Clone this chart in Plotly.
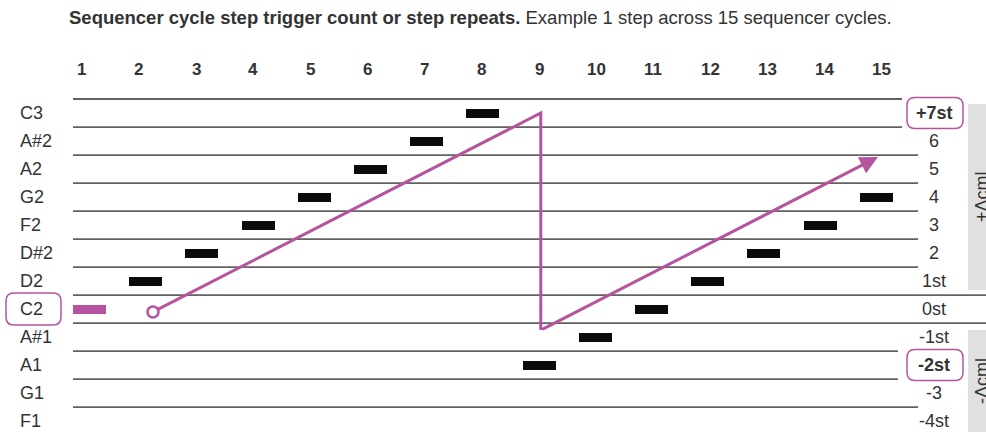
import plotly.graph_objects as go

# ---------------- data ----------------
steps = list(range(1, 16))
step_rows = [0, 1, 2, 3, 4, 5, 6, 7, -2, -1, 0, 1, 2, 3, 4]
col_labels = [str(s) for s in steps]
row_values = [7, 6, 5, 4, 3, 2, 1, 0, -1, -2, -3, -4]
note_labels = ["C3", "A#2", "A2", "G2", "F2", "D#2", "D2", "C2", "A#1", "A1", "G1", "F1"]
offset_labels = ["+7st", "6", "5", "4", "3", "2", "1st", "0st", "-1st", "-2st", "-3", "-4st"]
trend_steps = [2.13, 9.03, 9.03, 15.03]
trend_rows = [-0.1, 7.0, -0.75, 5.43]
root_row = 0
limit_rows = [7, -2]
title_bold = "Sequencer cycle step trigger count or step repeats."
title_rest = "Example 1 step across 15 sequencer cycles."
range_labels = ["+Δcml", "-Δcml"]

# ---------------- styling / layout ----------------
W, H = 986, 432
PINK = "#B5539F"
TXT = "#333333"
GRID = "#626262"
FONT = "Liberation Sans, Arial, Helvetica, sans-serif"
X_RANGE = [-0.5925, 16.952]
X2_RANGE = [-0.432, 16.821]
Y_RANGE = [-4.388, 11.035]
BAR_H = 0.32
BAR_W = 0.587


def row_px(r):
    return 309.1 - 28.01 * r


def px(x):
    return x / W


def py(y):
    return 1 - y / H


def rounded(x0, x1, y0, y1, r=8):
    X0, X1 = px(x0), px(x1)
    Y0, Y1 = py(y0), py(y1)
    rx, ry = r / W, r / H
    return (f"M {X0+rx},{Y0} L {X1-rx},{Y0} Q {X1},{Y0} {X1},{Y0-ry} "
            f"L {X1},{Y1+ry} Q {X1},{Y1} {X1-rx},{Y1} L {X0+rx},{Y1} "
            f"Q {X0},{Y1} {X0},{Y1+ry} L {X0},{Y0-ry} Q {X0},{Y0} {X0+rx},{Y0} Z")


fig = go.Figure()

colors = [PINK if i == 0 else "#0a0a0a" for i in range(len(steps))]
fig.add_trace(go.Bar(
    x=steps, y=[BAR_H] * len(steps), base=[r - BAR_H / 2 for r in step_rows],
    width=BAR_W, marker=dict(color=colors, line_width=0), hoverinfo="skip",
))
fig.add_trace(go.Scatter(
    x=trend_steps[:3], y=trend_rows[:3], mode="lines",
    line=dict(color=PINK, width=3), hoverinfo="skip",
))
fig.add_trace(go.Scatter(
    x=trend_steps[:1], y=trend_rows[:1], mode="markers",
    marker=dict(symbol="circle", size=11, color="white", line=dict(color=PINK, width=2.5)),
    hoverinfo="skip",
))
fig.add_trace(go.Scatter(x=[], y=[], xaxis="x2", showlegend=False))

shapes = []
shapes.append(dict(type="rect", xref="paper", yref="paper", x0=px(968), x1=1.02,
                   y0=py(290), y1=py(104), fillcolor="#e0e0e0", line_width=0, layer="below"))
shapes.append(dict(type="rect", xref="paper", yref="paper", x0=px(968), x1=1.02,
                   y0=-0.02, y1=py(330), fillcolor="#e0e0e0", line_width=0, layer="below"))
for r in row_values:
    b = r + 0.5
    if r in limit_rows or (r + 1) in limit_rows:
        end = 902 if b > 0 else 898
    elif abs(b - root_row) < 0.6:
        end = W + 5
    else:
        end = 918
    shapes.append(dict(type="line", xref="paper", yref="y", x0=px(73), x1=px(end),
                       y0=b, y1=b, line=dict(color=GRID, width=1.8), layer="below"))
yc = row_px(root_row)
shapes.append(dict(type="path", xref="paper", yref="paper",
                   path=rounded(6, 61, yc - 16, yc + 16), line=dict(color=PINK, width=1.5)))
for r in limit_rows:
    yc = row_px(r)
    shapes.append(dict(type="path", xref="paper", yref="paper",
                       path=rounded(907, 963, yc - 15.5, yc + 15.5), line=dict(color=PINK, width=1.5)))

ann = []
ann.append(dict(xref="paper", yref="paper", x=px(67), y=py(18), xanchor="left", yanchor="middle",
                text=f"<b>{title_bold}</b> {title_rest}", showarrow=False,
                font=dict(size=18.5, color=TXT, family=FONT)))
for s, lab in zip(steps, col_labels):
    ann.append(dict(xref="x2", yref="paper", x=s, y=py(70), xanchor="center", yanchor="middle",
                    text=f"<b>{lab}</b>", showarrow=False, font=dict(size=17, color=TXT, family=FONT)))
for r, lab, off in zip(row_values, note_labels, offset_labels):
    ann.append(dict(xref="paper", yref="y", x=px(18), y=r, xanchor="left", yanchor="middle",
                    text=lab, showarrow=False, font=dict(size=18, color=TXT, family=FONT)))
    t = f"<b>{off}</b>" if r in limit_rows else off
    ann.append(dict(xref="paper", yref="y", x=px(934), y=r, xanchor="center", yanchor="middle",
                    text=t, showarrow=False, font=dict(size=18, color=TXT, family=FONT)))
ann.append(dict(xref="paper", yref="paper", x=px(982), y=py(197), xanchor="center", yanchor="middle",
                text=range_labels[0], textangle=-90, showarrow=False,
                font=dict(size=18, color=TXT, family=FONT)))
ann.append(dict(xref="paper", yref="paper", x=px(982), y=py(381), xanchor="center", yanchor="middle",
                text=range_labels[1], textangle=-90, showarrow=False,
                font=dict(size=18, color=TXT, family=FONT)))
ann.append(dict(xref="x", yref="y", axref="x", ayref="y",
                x=trend_steps[3], y=trend_rows[3], ax=trend_steps[2], ay=trend_rows[2],
                text="", showarrow=True, arrowhead=2, arrowsize=1.2, arrowwidth=3,
                arrowcolor=PINK, standoff=0, startstandoff=0))

fig.update_layout(
    width=W, height=H, autosize=False,
    margin=dict(l=0, r=0, t=0, b=0),
    paper_bgcolor="white", plot_bgcolor="white",
    showlegend=False,
    xaxis=dict(range=X_RANGE, visible=False, fixedrange=True),
    xaxis2=dict(range=X2_RANGE, visible=False, overlaying="x", fixedrange=True),
    yaxis=dict(range=Y_RANGE, visible=False, fixedrange=True),
    shapes=shapes, annotations=ann,
    bargap=0,
)

fig.write_html("out.html", post_script="document.body.style.margin='0';",
               config={"displayModeBar": False})
